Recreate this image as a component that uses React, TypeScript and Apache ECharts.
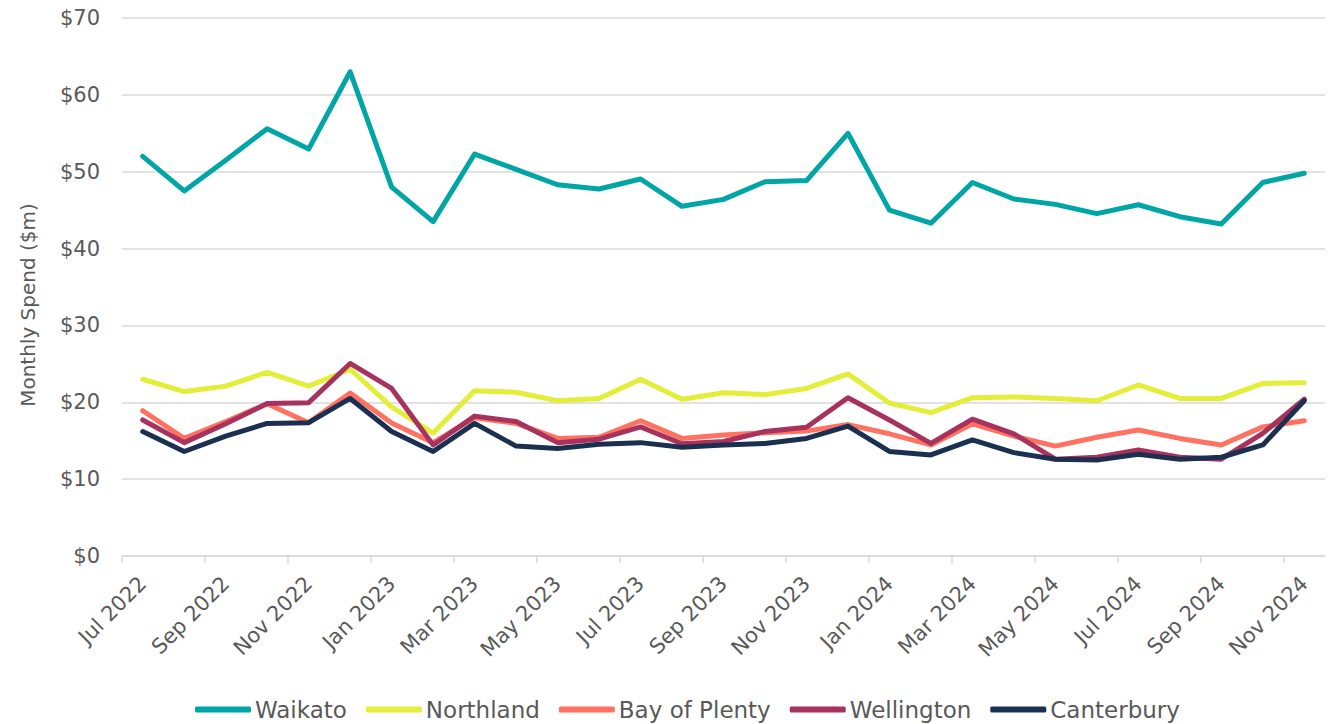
import React, { useEffect, useRef } from "react";
import * as echarts from "echarts";

const months = [
  "Jul 2022", "Aug 2022", "Sep 2022", "Oct 2022", "Nov 2022", "Dec 2022",
  "Jan 2023", "Feb 2023", "Mar 2023", "Apr 2023", "May 2023", "Jun 2023",
  "Jul 2023", "Aug 2023", "Sep 2023", "Oct 2023", "Nov 2023", "Dec 2023",
  "Jan 2024", "Feb 2024", "Mar 2024", "Apr 2024", "May 2024", "Jun 2024",
  "Jul 2024", "Aug 2024", "Sep 2024", "Oct 2024", "Nov 2024",
];

const waikato = [
  52.0, 47.5, 51.5, 55.6, 52.95, 63.0, 48.0, 43.5, 52.3, 50.3, 48.3, 47.75,
  49.05, 45.5, 46.4, 48.7, 48.85, 55.0, 45.0, 43.3, 48.6, 46.45, 45.75, 44.55,
  45.7, 44.15, 43.2, 48.6, 49.8,
];
const northland = [
  23.0, 21.4, 22.1, 23.9, 22.1, 24.3, 19.4, 16.0, 21.5, 21.3, 20.2, 20.5,
  23.0, 20.4, 21.25, 21.0, 21.8, 23.7, 19.9, 18.65, 20.6, 20.7, 20.5, 20.2,
  22.25, 20.5, 20.5, 22.45, 22.55,
];
const bayOfPlenty = [
  18.9, 15.3, 17.5, 19.8, 17.35, 21.2, 17.3, 14.75, 18.0, 17.25, 15.3, 15.45,
  17.6, 15.3, 15.75, 16.05, 16.25, 17.1, 15.9, 14.45, 17.2, 15.6, 14.3, 15.45,
  16.4, 15.3, 14.45, 16.8, 17.6,
];
const wellington = [
  17.7, 14.75, 17.2, 19.85, 19.95, 25.05, 21.8, 14.45, 18.2, 17.5, 14.75, 15.2,
  16.8, 14.6, 14.9, 16.2, 16.75, 20.6, 17.7, 14.65, 17.8, 15.9, 12.6, 12.85,
  13.8, 12.85, 12.6, 15.95, 20.4,
];
const canterbury = [
  16.2, 13.6, 15.6, 17.25, 17.35, 20.5, 16.2, 13.6, 17.25, 14.3, 14.0, 14.55,
  14.75, 14.15, 14.45, 14.65, 15.3, 16.9, 13.6, 13.15, 15.1, 13.45, 12.6, 12.5,
  13.25, 12.6, 12.85, 14.45, 20.2,
];

const seriesNames = ["Waikato", "Northland", "Bay of Plenty", "Wellington", "Canterbury"];
const seriesColors = ["#00A5A5", "#E2EE38", "#FF7262", "#A8325E", "#1B3050"];
const seriesData = [waikato, northland, bayOfPlenty, wellington, canterbury];

export default function App() {
  const ref = useRef<HTMLDivElement>(null);
  useEffect(() => {
    document.body.style.margin = "0";
    const chart = echarts.init(ref.current!, undefined, { renderer: "svg" });
    const font = "DejaVu Sans";
    const gray = "#595959";
    const grid = "#D9D9D9";
    const tickVals: number[] = [];
    const labelVals: number[] = [];
    for (let i = 0; i < months.length; i += 2) {
      tickVals.push(i);
      labelVals.push(i + 0.5);
    }
    chart.setOption({
      animation: false,
      backgroundColor: "#ffffff",
      grid: { left: 122, right: 4, top: 18, bottom: 168, containLabel: false },
      xAxis: {
        type: "value",
        min: 0,
        max: months.length,
        axisLine: { show: true, lineStyle: { color: grid, width: 1.5 } },
        axisTick: {
          show: true,
          length: 7,
          lineStyle: { color: grid, width: 1.5 },
          customValues: tickVals,
        },
        axisLabel: {
          customValues: labelVals,
          formatter: (v: number) => months[Math.floor(v)] ?? "",
          rotate: 45,
          margin: 24,
          fontSize: 21,
          color: gray,
          fontFamily: font,
        },
        splitLine: { show: false },
      },
      yAxis: {
        type: "value",
        min: 0,
        max: 70,
        interval: 10,
        axisLine: { show: false },
        axisTick: { show: false },
        axisLabel: {
          formatter: (v: number) => "$" + v,
          fontSize: 21,
          color: gray,
          fontFamily: font,
          margin: 22,
        },
        splitLine: { lineStyle: { color: grid, width: 1.5 } },
      },
      legend: {
        data: seriesNames,
        left: 190,
        top: 693,
        icon: "roundRect",
        itemWidth: 56,
        itemHeight: 6,
        itemGap: 19,
        textStyle: { fontSize: 23, color: gray, fontFamily: font, padding: [0, 0, 0, -1] },
      },
      graphic: [
        {
          type: "text",
          x: 28,
          y: 305,
          rotation: Math.PI / 2,
          style: {
            text: "Monthly Spend ($m)",
            fontSize: 20,
            fontFamily: font,
            fill: gray,
            textAlign: "center",
            textVerticalAlign: "middle",
          },
        },
      ],
      series: seriesNames.map((name, k) => ({
        name,
        type: "line",
        data: seriesData[k].map((v, i) => [i + 0.5, v]),
        symbol: "none",
        lineStyle: { width: 5, color: seriesColors[k], cap: "round", join: "round" },
        itemStyle: { color: seriesColors[k] },
      })),
    });
    return () => chart.dispose();
  }, []);
  return <div ref={ref} style={{ width: 1329, height: 724 }} />;
}
